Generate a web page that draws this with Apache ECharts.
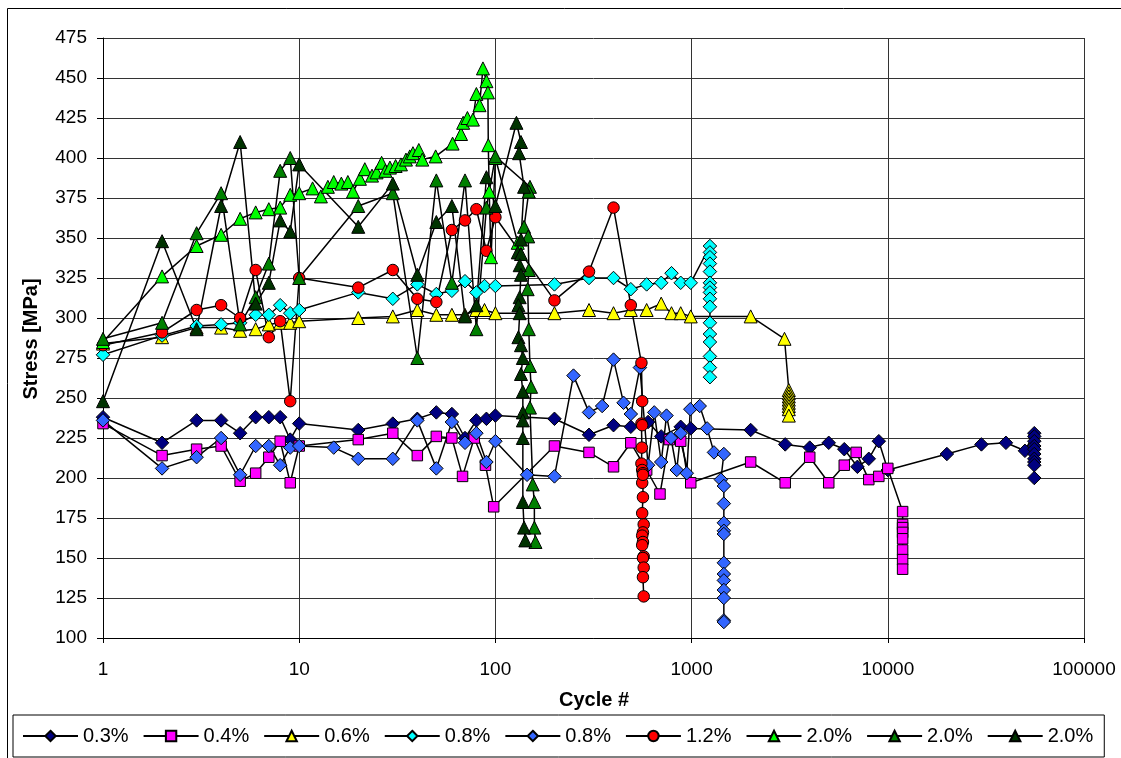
<!DOCTYPE html>
<html>
<head>
<meta charset="utf-8">
<script src="https://cdn.jsdelivr.net/npm/echarts@6/dist/echarts.min.js"></script>
<style>
  html, body { margin: 0; padding: 0; background: #fff; }
  #chart { width: 1121px; height: 758px; }
</style>
</head>
<body>
<div id="chart"></div>
<script>
// Strain amplitude labels shown in the legend (one per test)
const amplitudes = ['0.3%', '0.4%', '0.6%', '0.8%', '0.8%', '1.2%', '2.0%', '2.0%', '2.0%'];

// 0.3 % test
const cyc03 = [1,2,3,4,5,6,7,8,9,10,20,30,40,50,60,70,80,90,100,200,300,400,490,600,700,880,990,2000,3000,4000,5000,6000,7000,8000,9000,10000,20000,30000,40000,50000,55800,55800,55800,55800,55800,55800,55800,55800,55800,55800];
const mpa03 = [238,222,236,236,228,238,238,238,224,234,230,234,237,241,240,225,236,237,239,237,227,233,232,235,226,232,231,230,221,219,222,218,207,212,223,205,215,221,222,217,228,226,223,220,218,215,212,210,208,200];

// 0.4 % test
const cyc04 = [1,2,3,4,5,6,7,8,9,10,20,30,40,50,60,68,78,89,98,200,300,400,490,590,690,770,880,990,2000,3000,4000,5000,6000,6900,8000,9000,10000,11900,11900,11900,11900,11900,11900,11900,11900];
const mpa04 = [234,214,218,220,198,203,213,223,197,220,224,228,214,226,225,201,225,208,182,220,216,207,222,205,190,224,223,197,210,197,213,197,208,216,199,201,206,179,171,169,166,162,155,149,143];

// 0.6 % test
const cyc06 = [1,2,3,4,5,6,7,8,9,10,20,30,40,50,60,70,80,88,100,200,300,400,490,590,700,790,880,990,2000,2975,3130,3130,3130,3130,3130,3130,3130,3130];
const mpa06 = [284,288,294,294,292,293,296,297,297,298,300,301,305,302,302,302,305,305,303,303,305,303,305,305,309,303,303,301,301,287,255,253,251,249,247,245,243,239];

// 0.8 % test (first specimen)
const cyc08a = [1,2,3,4,5,6,7,8,9,10,20,30,40,50,60,70,80,88,100,200,300,400,490,590,700,790,880,990,1240,1240,1240,1240,1240,1240,1240,1240,1240,1240,1240,1240,1240,1240,1240,1240];
const mpa08a = [277,289,295,296,297,302,302,308,303,305,316,312,321,315,317,323,316,320,320,321,325,325,318,321,322,328,322,322,345,341,338,334,329,322,319,316,312,307,297,290,285,276,269,263];

// 0.8 % test (second specimen)
const cyc08b = [1,2,3,4,5,6,7,8,9,10,15,20,30,40,50,60,70,80,90,100,145,200,250,300,350,400,450,490,545,600,645,700,745,785,840,880,945,985,1100,1200,1300,1460,1410,1460,1460,1460,1460,1460,1460,1460,1460,1460,1460,1460,1460];
const mpa08b = [236,206,213,225,202,220,220,208,219,220,219,212,212,236,206,235,222,228,210,223,202,201,264,241,245,274,247,240,269,208,241,210,239,225,205,228,203,243,245,231,216,215,199,195,184,172,167,165,147,140,136,130,125,111,110];

// 1.2 % test
const cyc12 = [1,2,3,4,5,6,7,8,9,10,20,30,40,50,60,70,80,90,100,200,300,400,490,555,560,555,560,558,555,560,565,560,565,565,560,570,565,560,565,560,570,565,570,565,570];
const mpa12 = [283,291,305,308,300,330,288,298,248,325,319,330,312,310,355,361,368,342,363,311,329,369,308,272,248,234,233,219,209,205,203,197,202,188,178,171,166,164,160,158,151,150,144,138,126];

// 2.0 % tests (three specimens)
const cyc20a = [1,2,3,4,5,6,7,8,9,10,11.7,12.9,14,15,16.4,17.7,18.8,20.4,21.6,23.5,24.8,26.3,27.5,29,31,33,35,36.6,38,40.7,42.4,49.6,60.5,66.8,68.5,72,76.8,80,83,86.4,90,91.6,92,93,95,100,130];
const mpa20a = [285,326,345,352,362,366,368,369,377,378,381,376,382,385,384,385,379,387,393,389,391,397,392,394,395,396,399,401,403,405,399,401,409,415,422,425,424,440,433,456,448,441,408,379,338,400,347];

const cyc20b = [1,2,3,4,5,6,7,8,9,10,20,30,40,50,60,70,80,90,100,150,148,140,147,148,146,148,150,152,150,155,158,158,160];
const mpa20b = [287,297,353,378,296,313,334,392,400,325,370,378,275,386,322,386,293,369,401,382,379,357,351,330,318,293,270,257,244,196,185,169,160];

const cyc20c = [1,2,3,4,5,6,7,8,9,10,20,30,40,50,60,70,80,90,100,128,135,132,140,135,130,135,133,135,133,131,133,131,135,138,135,138,138,138,138,138,140,142];
const mpa20c = [248,348,293,370,410,309,322,361,354,396,357,384,327,360,370,301,308,388,370,422,410,403,382,349,341,340,333,327,313,308,303,288,283,275,265,254,241,236,225,185,169,161];

// Axis tick values
const cycleTicks = [1, 10, 100, 1000, 10000, 100000];
const stressMin = 100, stressMax = 475, stressStep = 25;

const FONT = '"Liberation Sans", Arial, Helvetica, sans-serif';

// Marker look for each test, in legend order
const looks = [
  { symbol: 'diamond',  size: 13.5, color: '#000080', x: cyc03,  y: mpa03 },
  { symbol: 'rect',     size: 10.5, color: '#FF00FF', x: cyc04,  y: mpa04 },
  { symbol: 'triangle', size: 13,   color: '#FFFF00', x: cyc06,  y: mpa06 },
  { symbol: 'diamond',  size: 13.5, color: '#00FFFF', x: cyc08a, y: mpa08a },
  { symbol: 'diamond',  size: 13.5, color: '#3366FF', x: cyc08b, y: mpa08b },
  { symbol: 'circle',   size: 11.5, color: '#FF0000', x: cyc12,  y: mpa12 },
  { symbol: 'triangle', size: 13,   color: '#00FF00', x: cyc20a, y: mpa20a },
  { symbol: 'triangle', size: 13,   color: '#008000', x: cyc20b, y: mpa20b },
  { symbol: 'triangle', size: 13,   color: '#003300', x: cyc20c, y: mpa20c }
];

// Legend entries must be unique keys; pad repeated labels with spaces and trim them on display
const seen = {};
const seriesKeys = amplitudes.map(a => {
  seen[a] = (seen[a] || 0) + 1;
  return a + ' '.repeat(seen[a] - 1);
});

const series = looks.map((lk, i) => ({
  name: seriesKeys[i],
  type: 'line',
  data: lk.x.map((c, j) => [c, lk.y[j]]),
  symbol: lk.symbol,
  symbolSize: lk.size,
  showSymbol: true,
  showAllSymbol: true,
  lineStyle: { color: '#000', width: 1.5 },
  itemStyle: { color: lk.color, borderColor: '#000', borderWidth: 1, opacity: 1 },
  emphasis: { disabled: true },
  animation: false
}));

const chart = echarts.init(document.getElementById('chart'), null, { renderer: 'canvas' });
chart.setOption({
  backgroundColor: '#fff',
  animation: false,
  grid: { left: 103, top: 38, width: 981, height: 600, containLabel: false },
  xAxis: {
    type: 'log',
    logBase: 10,
    min: cycleTicks[0],
    max: cycleTicks[cycleTicks.length - 1],
    axisLine: { show: true, onZero: false, lineStyle: { color: '#000', width: 1 } },
    axisTick: { show: true, inside: false, length: 5, lineStyle: { color: '#000' } },
    minorTick: { show: false },
    axisLabel: {
      color: '#000', fontSize: 19, fontFamily: FONT, margin: 22,
      formatter: v => String(Math.round(v))
    },
    splitLine: { show: true, lineStyle: { color: '#333', width: 1 } }
  },
  yAxis: {
    type: 'value',
    min: stressMin,
    max: stressMax,
    interval: stressStep,
    axisLine: { show: true, lineStyle: { color: '#000', width: 1 } },
    axisTick: { show: true, inside: false, length: 6, lineStyle: { color: '#000' } },
    axisLabel: { color: '#000', fontSize: 19, fontFamily: FONT, margin: 16 },
    splitLine: { show: true, lineStyle: { color: '#333', width: 1 } }
  },
  legend: {
    data: seriesKeys,
    formatter: n => n.trim(),
    left: 13,
    top: 715,
    orient: 'horizontal',
    itemWidth: 55,
    itemHeight: 13,
    itemGap: 14,
    padding: [11, 11, 11, 9],
    borderColor: '#000',
    borderWidth: 1,
    backgroundColor: '#fff',
    selectedMode: false,
    textStyle: { color: '#000', fontSize: 20, fontFamily: FONT }
  },
  graphic: [
    {
      type: 'rect', silent: true, z: -10,
      shape: { x: 7.5, y: 8.5, width: 1300, height: 900 },
      style: { fill: 'none', stroke: '#000', lineWidth: 1 }
    },
    {
      type: 'text', silent: true,
      x: 31, y: 339, rotation: Math.PI / 2,
      style: {
        text: 'Stress [MPa]', fill: '#000',
        fontSize: 20, fontWeight: 'bold', fontFamily: FONT,
        align: 'center', verticalAlign: 'middle'
      }
    },
    {
      type: 'text', silent: true,
      x: 594, y: 700,
      style: {
        text: 'Cycle #', fill: '#000',
        fontSize: 20, fontWeight: 'bold', fontFamily: FONT,
        align: 'center', verticalAlign: 'middle'
      }
    }
  ],
  series: series
});
</script>
</body>
</html>
